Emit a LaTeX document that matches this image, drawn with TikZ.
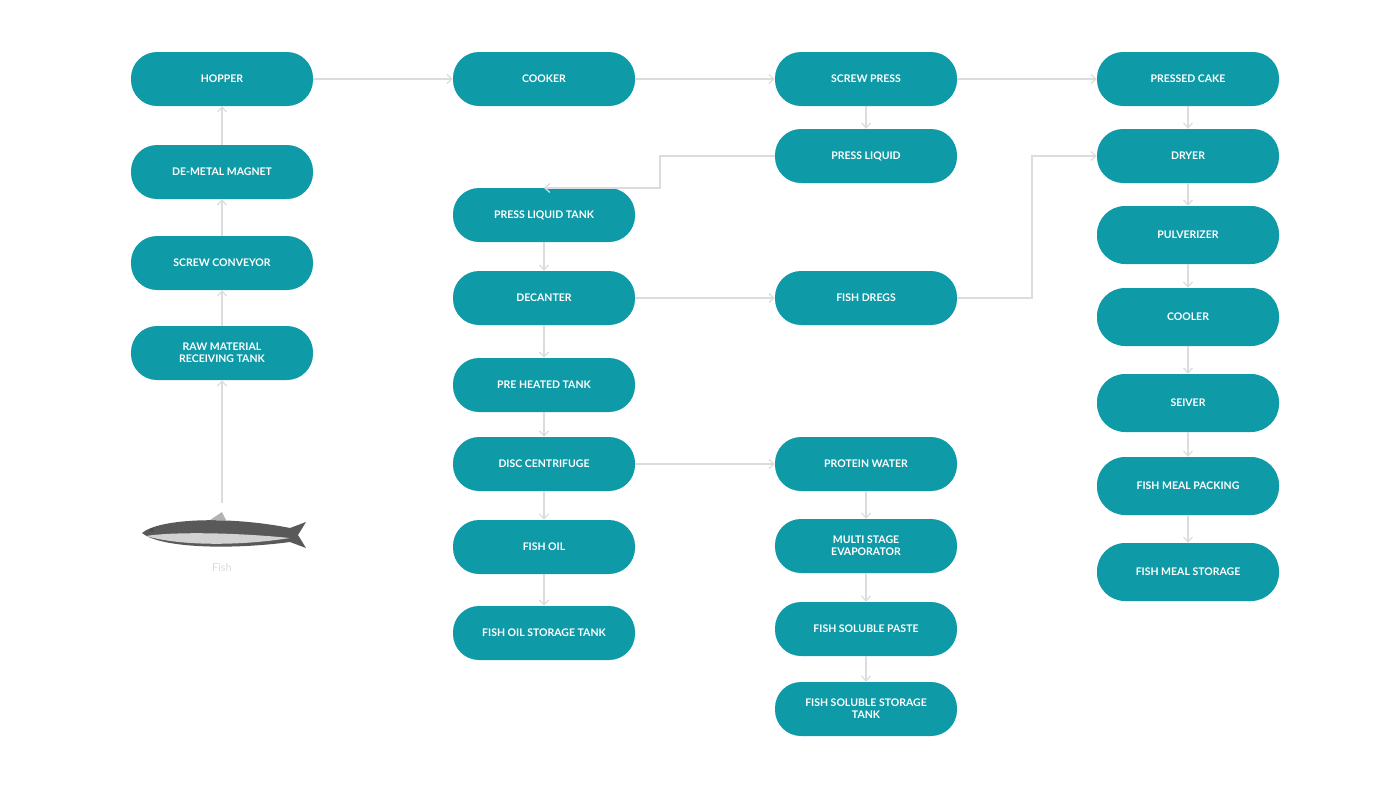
\documentclass[tikz,border=0pt]{standalone}
\usepackage{fontspec}
\setmainfont{Lato}
\usetikzlibrary{arrows.meta,calc}
\definecolor{teal1}{HTML}{0E9AA7}
\definecolor{ln}{HTML}{DADDDF}
\begin{document}
\begin{tikzpicture}[x=1pt,y=-1pt,
 box/.style={fill=teal1,text=white,font=\bfseries\fontsize{10.5}{12}\selectfont,minimum width=182pt,minimum height=54pt,rounded corners=26pt,align=center,inner sep=2pt},
 tall/.style={box,minimum height=58pt,rounded corners=28pt},
 ar/.style={draw=ln,line width=1.2pt,-{Straight Barb[length=5pt,width=9pt]}}]
\useasboundingbox (0,0) rectangle (1400,788);
\node[box] (hop) at (222,79) {HOPPER};
\node[box] (dem) at (222,172) {DE-METAL MAGNET};
\node[box] (scv) at (222,263) {SCREW CONVEYOR};
\node[box] (raw) at (222,353) {RAW MATERIAL\\RECEIVING TANK};
\node[box] (coo) at (544,79) {COOKER};
\node[box] (plt) at (544,215) {PRESS LIQUID TANK};
\node[box] (dec) at (544,298) {DECANTER};
\node[box] (pre) at (544,385) {PRE HEATED TANK};
\node[box] (dis) at (544,464) {DISC CENTRIFUGE};
\node[box] (oil) at (544,547) {FISH OIL};
\node[box] (ost) at (544,633) {FISH OIL STORAGE TANK};
\node[box] (scp) at (866,79) {SCREW PRESS};
\node[box] (pl) at (866,156) {PRESS LIQUID};
\node[box] (dre) at (866,298) {FISH DREGS};
\node[box] (pro) at (866,464) {PROTEIN WATER};
\node[box] (mse) at (866,546) {MULTI STAGE\\EVAPORATOR};
\node[box] (pas) at (866,629) {FISH SOLUBLE PASTE};
\node[box] (sst) at (866,709) {FISH SOLUBLE STORAGE\\TANK};
\node[box] (cak) at (1188,79) {PRESSED CAKE};
\node[box] (dry) at (1188,156) {DRYER};
\node[tall] (pul) at (1188,235) {PULVERIZER};
\node[tall] (col) at (1188,317) {COOLER};
\node[tall] (sei) at (1188,403) {SEIVER};
\node[tall] (pak) at (1188,486) {FISH MEAL PACKING};
\node[tall] (mst) at (1188,572) {FISH MEAL STORAGE};
% fish
\node[inner sep=0pt,minimum width=150pt,minimum height=30pt] (fish) at (222,532) {};
\fill[gray!70!black] (142,533) .. controls (160,518) and (230,516) .. (290,528) -- (306,522) -- (298,535) -- (306,548) -- (290,542) .. controls (230,550) and (160,548) .. (142,533) -- cycle;
\fill[gray!35] (146,536) .. controls (180,546) and (240,546) .. (290,538) .. controls (230,532) and (170,532) .. (146,536) -- cycle;
\fill[gray!60] (210,520) -- (222,512) -- (226,520) -- cycle;
\fill[black!70] (152,530) circle (2pt);
\node[text=ln,font=\fontsize{11}{12}\selectfont] (fl) at (222,567) {Fish};
% connectors
\draw[ar] (222,503) -- (raw);
\draw[ar] (raw) -- (scv);
\draw[ar] (scv) -- (dem);
\draw[ar] (dem) -- (hop);
\draw[ar] (hop) -- (coo);
\draw[ar] (coo) -- (scp);
\draw[ar] (scp) -- (cak);
\draw[ar] (scp) -- (pl);
\coordinate (t1) at (544,188);
\draw[ar] (pl.west) -- (660,156) -- (660,188) -- (t1);
\draw[ar] (plt) -- (dec);
\draw[ar] (dec) -- (dre);
\draw[ar] (dec) -- (pre);
\draw[ar] (pre) -- (dis);
\draw[ar] (dis) -- (pro);
\draw[ar] (dis) -- (oil);
\draw[ar] (oil) -- (ost);
\draw[ar] (pro) -- (mse);
\draw[ar] (mse) -- (pas);
\draw[ar] (pas) -- (sst);
\draw[ar] (dre.east) -- (1032,298) -- (1032,156) -- (dry.west);
\draw[ar] (cak) -- (dry);
\draw[ar] (dry) -- (pul);
\draw[ar] (pul) -- (col);
\draw[ar] (col) -- (sei);
\draw[ar] (sei) -- (pak);
\draw[ar] (pak) -- (mst);
\end{tikzpicture}
\end{document}
